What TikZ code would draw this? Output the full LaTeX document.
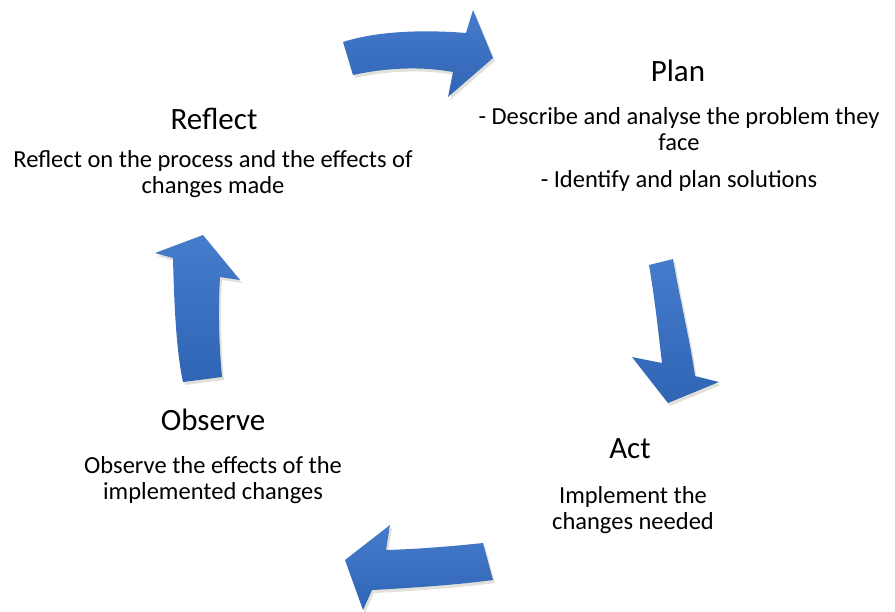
\documentclass[tikz,border=0pt]{standalone}
\usepackage{fontspec}
\setmainfont{Carlito}
\definecolor{arrtop}{RGB}{70,124,204}
\definecolor{arrbot}{RGB}{48,100,180}
\definecolor{shadowc}{RGB}{225,225,218}
\tikzset{
  bigarrow/.style={top color=arrtop, bottom color=arrbot, draw=none},
  arrshadow/.style={fill=shadowc, draw=none},
  title/.style={font=\fontsize{31}{36}\selectfont, inner sep=0pt, align=center},
  body/.style={font=\fontsize{24.5}{26.5}\selectfont, inner sep=0pt, align=center}
}
\begin{document}
\begin{tikzpicture}[x=1pt,y=-1pt]
\useasboundingbox (0,0) rectangle (895,611);
% shadows
\begin{scope}[shift={(2,3)}]
\fill[arrshadow] (343,42) .. controls (380,30) and (430,30) .. (466,33) -- (473,10) -- (493,58) -- (448,97) -- (453,72) .. controls (420,66) and (385,68) .. (353,75) -- cycle;
\fill[arrshadow] (649,265) -- (673,259) .. controls (680,300) and (690,340) .. (695,376) -- (719,382) -- (668,403) -- (632,357) -- (662,363) .. controls (658,330) and (655,300) .. (649,265) -- cycle;
\fill[arrshadow] (483,543) -- (493,580) .. controls (455,585) and (410,588) .. (372,590) -- (363,610) -- (345,560) -- (390,525) -- (386,550) .. controls (420,549) and (455,546) .. (483,543) -- cycle;
\fill[arrshadow] (183,382) -- (222,377) .. controls (219,345) and (218,310) .. (220,277) -- (240,280) -- (203,235) -- (155,253) -- (173,258) .. controls (174,300) and (177,350) .. (183,382) -- cycle;
\end{scope}
% arrows
\shade[bigarrow] (343,42) .. controls (380,30) and (430,30) .. (466,33) -- (473,10) -- (493,58) -- (448,97) -- (453,72) .. controls (420,66) and (385,68) .. (353,75) -- cycle;
\shade[bigarrow] (649,265) -- (673,259) .. controls (680,300) and (690,340) .. (695,376) -- (719,382) -- (668,403) -- (632,357) -- (662,363) .. controls (658,330) and (655,300) .. (649,265) -- cycle;
\shade[bigarrow] (483,543) -- (493,580) .. controls (455,585) and (410,588) .. (372,590) -- (363,610) -- (345,560) -- (390,525) -- (386,550) .. controls (420,549) and (455,546) .. (483,543) -- cycle;
\shade[bigarrow] (183,382) -- (222,377) .. controls (219,345) and (218,310) .. (220,277) -- (240,280) -- (203,235) -- (155,253) -- (173,258) .. controls (174,300) and (176,350) .. (183,382) -- cycle;
% texts
\node[title] (plan) at (678,71) {Plan};
\node[body] (plantext) at (679,129) {- Describe and analyse the problem they\\face};
\node[body] (plantext2) at (679,181) {- Identify and plan solutions};
\node[title] (reflect) at (214,119) {Reflect};
\node[body] (reflecttext) at (213,174) {Reflect on the process and the effects of\\changes made};
\node[title] (observe) at (213,420) {Observe};
\node[body] (observetext) at (213,480) {Observe the effects of the\\implemented changes};
\node[title] (act) at (630,449) {Act};
\node[body] (acttext) at (633,510) {Implement the\\changes needed};
\end{tikzpicture}
\end{document}
